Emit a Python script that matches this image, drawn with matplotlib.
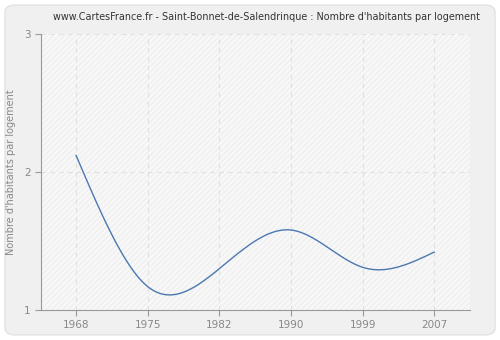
import matplotlib.pyplot as plt
import numpy as np
from matplotlib.patches import FancyBboxPatch, Rectangle

years = ['1968', '1975', '1982', '1990', '1999', '2007']
values = [2.12, 1.17, 1.30, 1.58, 1.31, 1.42]


# natural cubic spline through the census points
def spline(xs, ys, n=400):
    xs = np.asarray(xs, float)
    ys = np.asarray(ys, float)
    k = len(xs)
    h = np.diff(xs)
    A = np.zeros((k, k))
    r = np.zeros(k)
    A[0, 0] = A[-1, -1] = 1
    for i in range(1, k - 1):
        A[i, i - 1] = h[i - 1]
        A[i, i] = 2 * (h[i - 1] + h[i])
        A[i, i + 1] = h[i]
        r[i] = 3 * ((ys[i + 1] - ys[i]) / h[i] - (ys[i] - ys[i - 1]) / h[i - 1])
    c = np.linalg.solve(A, r)
    xx = np.linspace(xs[0], xs[-1], n)
    yy = np.empty_like(xx)
    for j, t in enumerate(xx):
        i = min(np.searchsorted(xs, t, side='right') - 1, k - 2)
        b = (ys[i + 1] - ys[i]) / h[i] - h[i] * (2 * c[i] + c[i + 1]) / 3
        d = (c[i + 1] - c[i]) / (3 * h[i])
        dx = t - xs[i]
        yy[j] = ys[i] + b * dx + c[i] * dx ** 2 + d * dx ** 3
    return xx, yy


fig = plt.figure(figsize=(5, 3.4), dpi=100)
fig.patch.set_facecolor('white')
fig.patches.append(FancyBboxPatch((0.01, 0.015), 0.98, 0.97,
                                  boxstyle='round,pad=0,rounding_size=0.02',
                                  transform=fig.transFigure, facecolor='#f0f0f0',
                                  edgecolor='#e2e2e2', linewidth=1, zorder=-5))

ax = fig.add_axes([0.082, 0.088, 0.858, 0.812])
ax.set_zorder(2)
ax.set_facecolor('#f8f8f8')
x = np.arange(len(years))
ax.set_xlim(-0.49, 5.5)
ax.set_ylim(1, 3)

ax.add_patch(Rectangle((-0.49, 1), 6, 2, facecolor='none', edgecolor='#efefef',
                       hatch='//////', linewidth=0, zorder=0))

for xi in x:
    ax.axvline(xi, color='#e0e0e0', linestyle=(0, (4, 4)), linewidth=0.8, zorder=1)
ax.axhline(2, color='#e0e0e0', linestyle=(0, (4, 4)), linewidth=0.8, zorder=1)
ax.axhline(3, color='#e0e0e0', linestyle=(0, (4, 4)), linewidth=0.8, zorder=1)

xx, yy = spline(x, values)
ax.plot(xx, yy, color='#4a78b0', linewidth=1, zorder=3)

ax.set_xticks(x)
ax.set_xticklabels(years)
ax.set_yticks([1, 2, 3])
ax.tick_params(colors='#999999', labelcolor='#888888', labelsize=7.5, length=4, width=0.8)
for s in ['top', 'right']:
    ax.spines[s].set_visible(False)
for s in ['left', 'bottom']:
    ax.spines[s].set_color('#999999')
ax.set_ylabel("Nombre d'habitants par logement", color='#888888', fontsize=7, labelpad=6)
fig.text(0.532, 0.95, "www.CartesFrance.fr - Saint-Bonnet-de-Salendrinque : Nombre d'habitants par logement",
         fontsize=6.9, color='#333333', ha='center', va='center', zorder=5)

fig.savefig('out.png', dpi=100, facecolor=fig.get_facecolor())
